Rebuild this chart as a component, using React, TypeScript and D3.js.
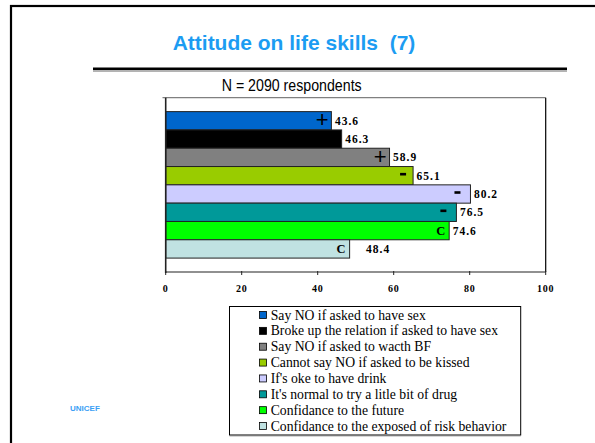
import React from "react";
import * as d3 from "d3";

const seriesNames = [
  "Say NO if asked to have sex",
  "Broke up the relation if asked to have sex",
  "Say NO if asked to wacth BF",
  "Cannot say NO if asked to be kissed",
  "If's oke to have drink",
  "It's normal to try a litle bit of drug",
  "Confidance to the future",
  "Confidance to the exposed of risk behavior",
];
const values = [43.6, 46.3, 58.9, 65.1, 80.2, 76.5, 74.6, 48.4];
const markers = ["+", "", "+", "-", "-", "-", "C", "C"];
const colors = ["#0066CC", "#000000", "#808080", "#99CC00", "#CCCCFF", "#009999", "#00FF00", "#C0E2E2"];
const xTicks = [0, 20, 40, 60, 80, 100];
const title = "Attitude on life skills\u00A0\u00A0(7)";
const subtitle = "N = 2090 respondents";
const footer = "UNICEF";

const W = 595;
const H = 443;
const plot = { left: 165.7, right: 545.7, top: 97.7, bottom: 272 };
const SERIF = "'Liberation Serif', 'Times New Roman', serif";
const SANS = "'Liberation Sans', Arial, sans-serif";

export default function App() {
  const x = d3.scaleLinear().domain([0, 100]).range([plot.left, plot.right]);
  const y = d3
    .scaleBand<string>()
    .domain(seriesNames)
    .range([plot.top, plot.bottom])
    .paddingInner(0)
    .paddingOuter(0.76);
  const bh = y.bandwidth();
  const legend = { x: 229.5, y: 306.5, w: 291.2, h: 128.5, row0: 315, step: 15.86 };

  return (
    <div style={{ position: "fixed", left: 0, top: 0 }}>
      <svg width={W} height={H} style={{ display: "block", background: "#fff" }}>
        <rect x={11} y={6} width={W + 20} height={H + 20} fill="none" stroke="#000" strokeWidth={2.2} />
        <text x={294} y={49.5} textAnchor="middle" fontFamily={SANS} fontWeight="bold" fontSize={21} fill="#1C9CF2">
          {title}
        </text>
        <line x1={93} x2={567} y1={68.7} y2={68.7} stroke="#000" strokeWidth={2.6} />
        <line x1={93} x2={567} y1={71} y2={71} stroke="#9a9a9a" strokeWidth={1.3} />
        <text
          x={291.7}
          y={90.5}
          textAnchor="middle"
          fontFamily={SANS}
          fontSize={16.5}
          textLength={140}
          lengthAdjust="spacingAndGlyphs"
          fill="#000"
        >
          {subtitle}
        </text>
        <line x1={162.5} x2={plot.right} y1={plot.top} y2={plot.top} stroke="#808080" strokeWidth={1.2} />
        <line x1={plot.right} x2={plot.right} y1={plot.top} y2={plot.bottom} stroke="#000" strokeWidth={1.2} />
        {seriesNames.map((s, i) => {
          const y0 = y(s)!;
          const xe = x(values[i]);
          const cy = y0 + bh / 2;
          const m = markers[i];
          const labelGap = i === seriesNames.length - 1 ? 16.5 : 3.5;
          return (
            <g key={s}>
              <rect x={x(0)} y={y0} width={xe - x(0)} height={bh} fill={colors[i]} stroke="#222" strokeWidth={1} />
              {m === "+" && (
                <text x={xe - 9.3} y={cy + 6.5} textAnchor="middle" fontFamily={SANS} fontSize={22} fill="#000">
                  +
                </text>
              )}
              {m === "-" && <rect x={xe - (i === 3 ? 13 : 16)} y={cy - 2.8} width={6} height={2.6} fill="#000" />}
              {m === "C" && (
                <text
                  x={xe - 4}
                  y={cy + 4.3}
                  textAnchor="end"
                  fontFamily={SERIF}
                  fontWeight="bold"
                  fontSize={12.5}
                  fill="#000"
                >
                  C
                </text>
              )}
              <text
                x={xe + labelGap}
                y={cy + 4}
                fontFamily={SERIF}
                fontWeight="bold"
                fontSize={11.5}
                letterSpacing={1}
                fill="#000"
              >
                {values[i].toFixed(1)}
              </text>
            </g>
          );
        })}
        <line x1={plot.left} x2={plot.left} y1={plot.top} y2={plot.bottom + 1} stroke="#222" strokeWidth={1.6} />
        <line x1={plot.left} x2={plot.right} y1={plot.bottom} y2={plot.bottom} stroke="#222" strokeWidth={1.2} />
        {xTicks.map((t) => (
          <g key={t}>
            <line x1={x(t)} x2={x(t)} y1={plot.bottom - 1} y2={plot.bottom + 3} stroke="#222" strokeWidth={1} />
            <text
              x={x(t)}
              y={291.7}
              textAnchor="middle"
              fontFamily={SERIF}
              fontWeight="bold"
              fontSize={10}
              letterSpacing={0.8}
              fill="#000"
            >
              {t}
            </text>
          </g>
        ))}
        <rect x={legend.x} y={legend.y} width={legend.w} height={legend.h} fill="#fff" stroke="#000" strokeWidth={1} />
        <line
          x1={legend.x}
          x2={legend.x + legend.w}
          y1={legend.y + legend.h + 0.8}
          y2={legend.y + legend.h + 0.8}
          stroke="#777"
          strokeWidth={1}
        />
        {seriesNames.map((s, i) => {
          const cy = legend.row0 + i * legend.step;
          return (
            <g key={"lg" + s}>
              <rect x={259.5} y={cy - 3.5} width={7} height={7} fill={colors[i]} stroke="#000" strokeWidth={0.8} />
              <text x={270.7} y={cy + 4.5} fontFamily={SERIF} fontSize={13.7} fill="#000">
                {s}
              </text>
            </g>
          );
        })}
        <text x={70} y={411} fontFamily={SANS} fontWeight="bold" fontSize={8} fill="#3AA0F5">
          {footer}
        </text>
      </svg>
    </div>
  );
}
